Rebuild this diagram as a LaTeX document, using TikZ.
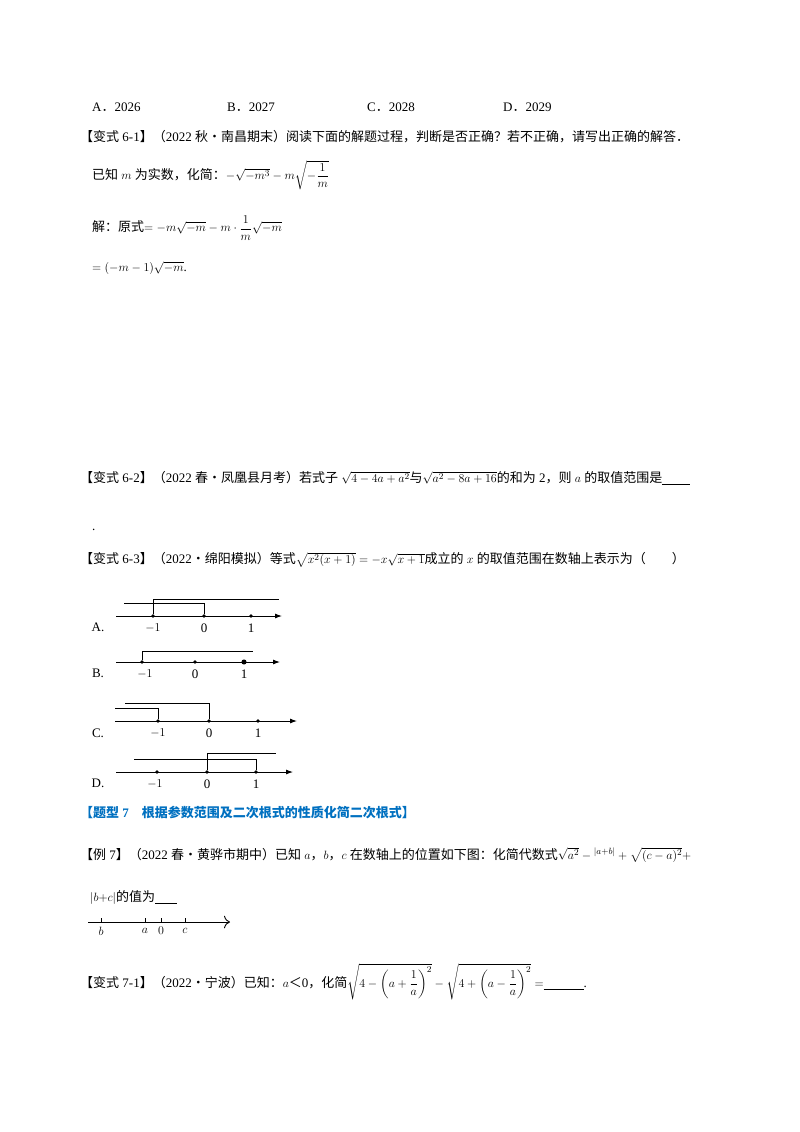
\documentclass[tikz,border=0pt]{standalone}
\usepackage{amsmath}
\usepackage{fontspec}
\setmainfont{Liberation Serif}
\newfontfamily\cjk{Noto Sans CJK SC}
\newcommand{\zh}[1]{{\cjk #1}}
\usetikzlibrary{arrows.meta}
\definecolor{tblue}{RGB}{0,112,192}
\begin{document}
\begin{tikzpicture}[x=1pt,y=-1pt,
  t/.style={anchor=west,inner sep=0pt,font=\fontsize{13}{15}\selectfont},
  lab/.style={inner sep=0pt,font=\fontsize{13}{15}\selectfont},
  ax/.style={line width=0.9pt,-{Latex[length=7pt,width=5pt]}},
  br/.style={line width=0.8pt},
  dot/.style={circle,fill,inner sep=1.3pt}]
\useasboundingbox (0,0) rectangle (800,1132);
\node[t] (a1) at (92,107) {A\zh{．}2026};
\node[t] (b1) at (227,107) {B\zh{．}2027};
\node[t] (c1) at (367,107) {C\zh{．}2028};
\node[t] (d1) at (503,107) {D\zh{．}2029};
\node[t] (l1) at (80,137) {\zh{【变式} 6-1\zh{】（}2022 \zh{秋•南昌期末）阅读下面的解题过程，判断是否正确？若不正确，请写出正确的解答．}};
\node[t] (l2) at (92,175) {\zh{已知} $m$ \zh{为实数，化简：}$-\sqrt{-m^3}-m\sqrt{-\dfrac{1}{m}}$};
\node[t] (l3) at (92,228) {\zh{解：原式}$=-m\sqrt{-m}-m\cdot\dfrac{1}{m}\sqrt{-m}$};
\node[t] (l4) at (92,268) {$=(-m-1)\sqrt{-m}$.};
\node[t] (l5) at (80,478) {\zh{【变式} 6-2\zh{】（}2022 \zh{春•凤凰县月考）若式子} $\sqrt{4-4a+a^2}$\zh{与}$\sqrt{a^2-8a+16}$\zh{的和为} 2\zh{，则} $a$ \zh{的取值范围是}\rule[-2pt]{28pt}{0.6pt}};
\node[t] (l6) at (92,530) {.};
\node[t] (l7) at (80,560) {\zh{【变式} 6-3\zh{】（}2022\zh{•绵阳模拟）等式}$\sqrt{x^2(x+1)}=-x\sqrt{x+1}$\zh{成立的} $x$ \zh{的取值范围在数轴上表示为（\quad\quad）}};
% A
\node[lab] (oA) at (98,627) {A.};
\draw[ax] (116,616) -- (282,616);
\node[dot] (Am) at (153,616) {}; \node[dot] (A0) at (204,616) {}; \node[dot] (A1) at (251,616) {};
\node[lab] at (153,628) {$-1$}; \node[lab] at (204,628) {0}; \node[lab] at (251,628) {1};
\draw[br] (124,603) -| (A0); \draw[br] (Am) |- (279,599);
% B
\node[lab] (oB) at (98,673) {B.};
\draw[ax] (116,662) -- (280,662);
\node[dot] (Bm) at (142,662) {}; \node[dot] (B0) at (195,662) {}; \node[dot,inner sep=1.8pt] (B1) at (244,662) {};
\node[lab] at (145,674) {$-1$}; \node[lab] at (195,674) {0}; \node[lab] at (244,674) {1};
\draw[br] (Bm) |- (253,651);
% C
\node[lab] (oC) at (98,733) {C.};
\draw[ax] (115,721) -- (297,721);
\node[dot] (Cm) at (158,721) {}; \node[dot] (C0) at (209,721) {}; \node[dot] (C1) at (258,721) {};
\node[lab] at (158,733) {$-1$}; \node[lab] at (209,733) {0}; \node[lab] at (258,733) {1};
\draw[br] (115,708) -| (Cm); \draw[br] (125,703) -| (C0);
% D
\node[lab] (oD) at (98,783) {D.};
\draw[ax] (116,772) -- (293,772);
\node[dot] (Dm) at (157,772) {}; \node[dot] (D0) at (207,772) {}; \node[dot] (D1) at (256,772) {};
\node[lab] at (155,784) {$-1$}; \node[lab] at (207,784) {0}; \node[lab] at (256,784) {1};
\draw[br] (134,759) -| (D1); \draw[br] (D0) |- (276,753);
% 题型7
\node[t,text=tblue,font=\fontsize{13}{15}\selectfont\bfseries] (h7) at (80,813) {\zh{\bfseries 【题型} 7\quad\zh{\bfseries 根据参数范围及二次根式的性质化简二次根式】}};
\node[t] (e7) at (80,855) {\zh{【例} 7\zh{】（}2022 \zh{春•黄骅市期中）已知} $a$\zh{，}$b$\zh{，}$c$ \zh{在数轴上的位置如下图：化简代数式}$\sqrt{a^2}-{}^{|a+b|}+\sqrt{(c-a)^2}+$};
\node[t] (e7b) at (90,898) {$|b{+}c|$\zh{的值为}\rule[-2pt]{22pt}{0.6pt}};
\draw[line width=0.9pt,-{To[length=6pt]}] (88,922) -- (230,922);
\foreach \n/\x/\l in {b/101/b,a/145/a,z/161/0,c/185/c}{
  \draw (\x,922) -- (\x,918);
  \node[lab] (n\n) at (\x,931) {$\l$};}
\node[t] (v71) at (80,982) {\zh{【变式} 7-1\zh{】（}2022\zh{•宁波）已知：}$a$\zh{＜}0\zh{，化简}$\sqrt{4-\left(a+\dfrac{1}{a}\right)^2}-\sqrt{4+\left(a-\dfrac{1}{a}\right)^2}=$\rule[-2pt]{40pt}{0.6pt}.};
\end{tikzpicture}
\end{document}
